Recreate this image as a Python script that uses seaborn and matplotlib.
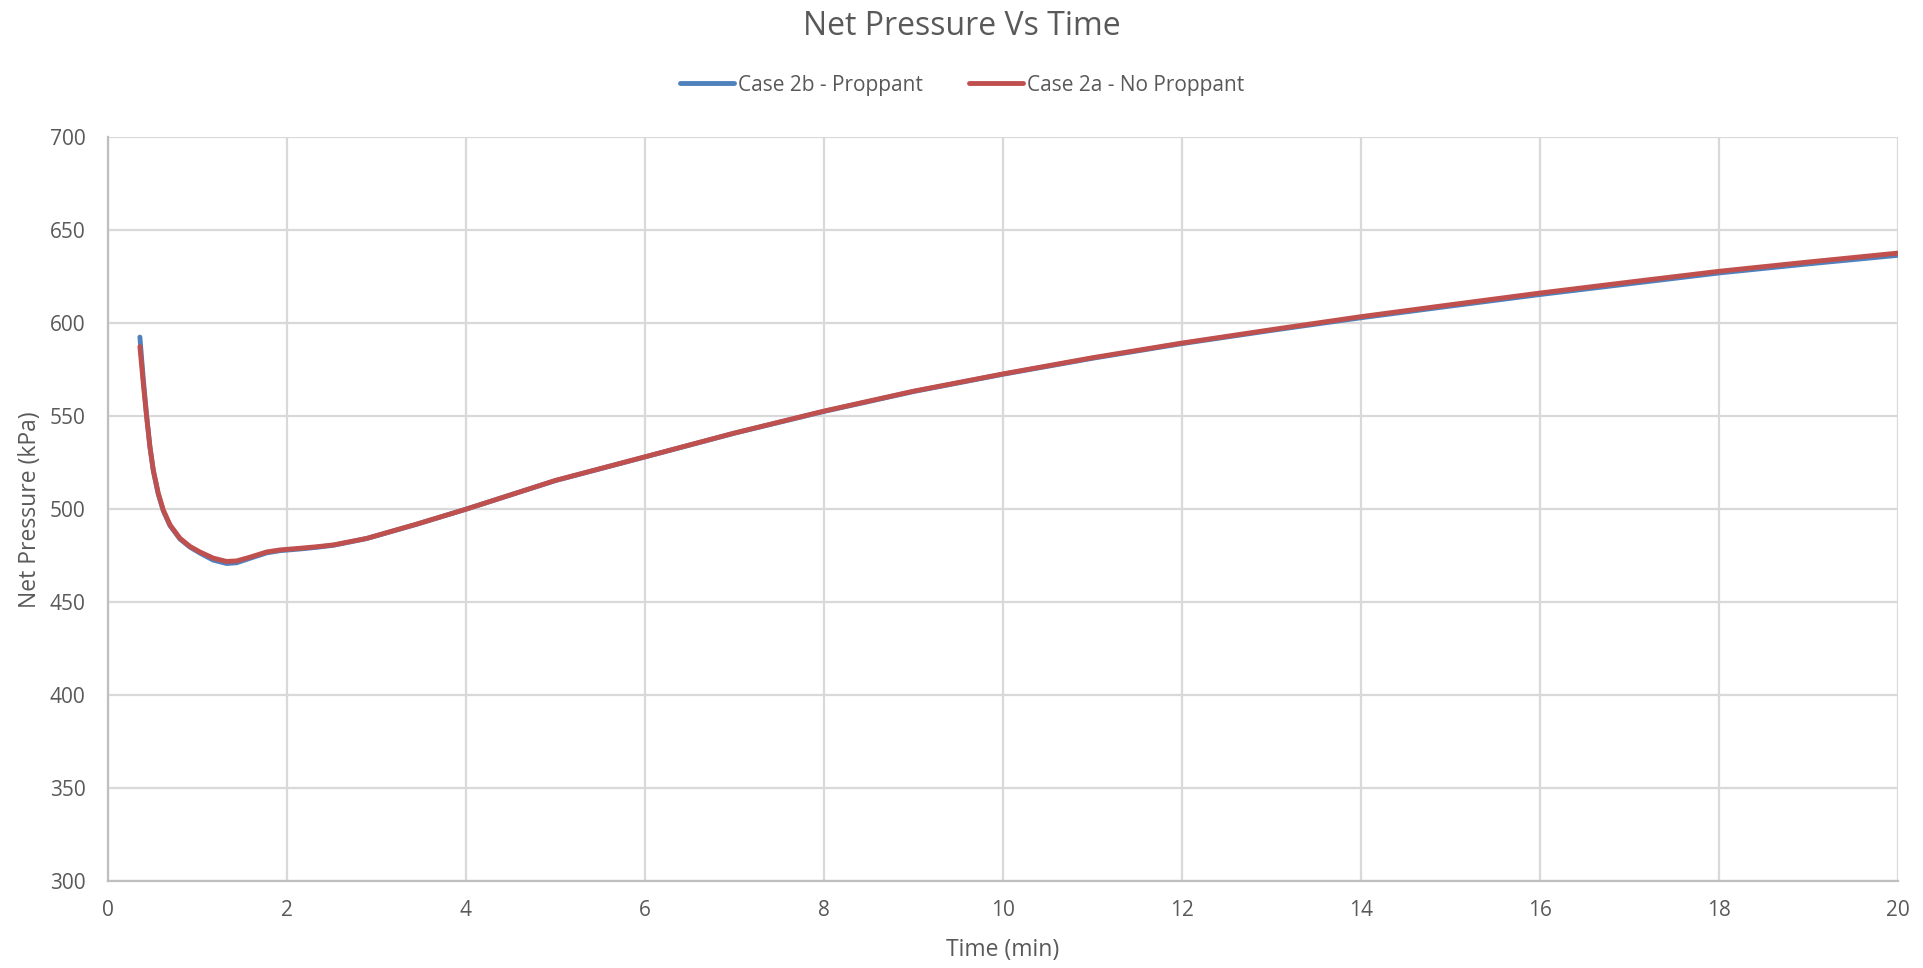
import pandas as pd
import numpy as np
from matplotlib import pyplot as plt
import seaborn as sns

# ---- data ----
time_min = [0.357, 0.395, 0.432, 0.469, 0.507, 0.562, 0.618, 0.693, 0.804, 0.916,
            1.028, 1.177, 1.326, 1.438, 1.587, 1.773, 1.922, 2.145, 2.33, 2.52,
            2.89, 3.45, 4.0, 5.0, 6.0, 7.0, 8.0, 9.0, 10.0, 11.0,
            12.0, 13.0, 14.0, 15.0, 16.0, 17.0, 18.0, 19.0, 20.0]

case2b_proppant = [592.6, 570.0, 550.5, 533.5, 520.6, 508.2, 499.2, 491.2, 484.0, 479.6,
                   476.4, 472.6, 470.8, 471.2, 473.6, 476.5, 477.7, 478.6, 479.5, 480.6,
                   484.2, 491.9, 500.0, 515.4, 528.1, 540.9, 552.6, 563.3, 572.6, 581.2,
                   589.1, 596.2, 603.0, 609.3, 615.5, 621.3, 627.1, 632.0, 636.6]

case2a_no_proppant = [587.5, 567.7, 549.8, 533.7, 521.0, 508.6, 499.6, 491.6, 484.4, 480.0,
                      477.0, 473.7, 471.9, 472.2, 474.2, 477.0, 478.1, 479.0, 479.8, 480.8,
                      484.3, 492.0, 500.0, 515.5, 528.2, 541.0, 552.8, 563.5, 572.8, 581.5,
                      589.4, 596.6, 603.6, 610.0, 616.3, 622.2, 628.0, 633.0, 637.8]

series_names = ['Case 2b - Proppant', 'Case 2a - No Proppant']
series_colors = ['#4F81BD', '#C0504D']

dataFrame = pd.DataFrame({
    'time': time_min * 2,
    'pressure': case2b_proppant + case2a_no_proppant,
    'case': [series_names[0]] * len(time_min) + [series_names[1]] * len(time_min),
})

# ---- style ----
sns.set_style('white')
plt.rcParams['font.family'] = ['Open Sans', 'DejaVu Sans']
textColor = '#595959'
gridColor = '#D9D9D9'

fig = plt.figure(figsize=(19.24, 9.68), dpi=100)
ax = fig.add_axes([0.0561, 0.0899, 0.9304, 0.7681])

sns.lineplot(data=dataFrame, x='time', y='pressure', hue='case', hue_order=series_names,
             palette=series_colors, sort=False, linewidth=3.5, ax=ax, legend=False)

ax.set_xlim(0, 20)
ax.set_ylim(300, 700)
ax.set_xticks(np.arange(0, 21, 2))
ax.set_yticks(np.arange(300, 701, 50))
ax.grid(True, color=gridColor, linewidth=1.6)
ax.set_axisbelow(True)

for side in ['top', 'right']:
    ax.spines[side].set_visible(False)
for side in ['left', 'bottom']:
    ax.spines[side].set_color('#BFBFBF')
    ax.spines[side].set_linewidth(1.6)

ax.tick_params(axis='both', length=0, labelsize=15, labelcolor=textColor)
ax.tick_params(axis='x', pad=14)
ax.tick_params(axis='y', pad=16)

ax.set_xlabel('Time (min)', fontsize=16.5, color=textColor, labelpad=12)
ax.set_ylabel('Net Pressure (kPa)', fontsize=16.5, color=textColor, labelpad=6)

fig.suptitle('Net Pressure Vs Time', fontsize=23, color=textColor, y=0.99)

handles = [plt.Line2D([], [], color=c, linewidth=3.5) for c in series_colors]
fig.legend(handles, series_names, loc='center', bbox_to_anchor=(0.5, 0.912), ncol=2,
           frameon=False, fontsize=15, labelcolor=textColor, handlelength=2.6,
           handletextpad=0.2, columnspacing=2.2)

plt.savefig('out.png', dpi=100)
